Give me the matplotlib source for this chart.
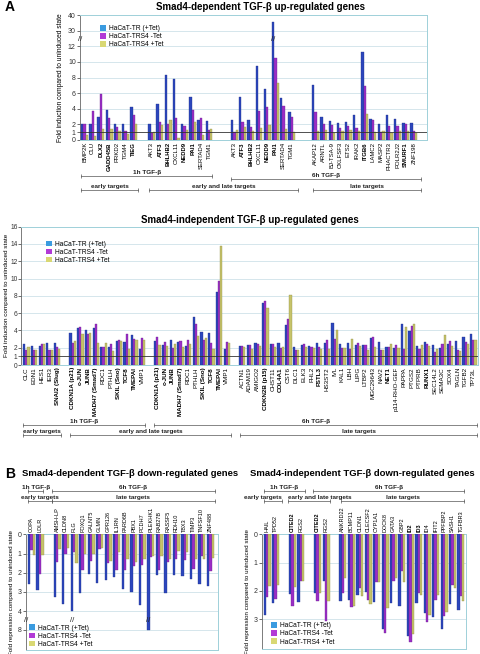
import numpy as np
import matplotlib.pyplot as plt
import matplotlib.transforms as mtransforms
from matplotlib.patches import Patch

plt.rcParams['font.family'] = ['Liberation Sans', 'DejaVu Sans']

series = ['HaCaT-TR (+Tet)', 'HaCaT-TRS4 -Tet', 'HaCaT-TRS4 +Tet']

# A top: Smad4-dependent up-regulated
dep_up_genes = ['BMP2K', 'CLU', 'DLX2', 'GADD45B', 'PRKD2', 'TGM4', 'TIEG',
                'AKT3', 'ATF3', 'BHLHB2', 'CXCL11', 'NEDD9', 'PAI1', 'SERTAD4', 'TGM1',
                'AKT3', 'ATF3', 'BHLHB2', 'CXCL11', 'NEDD9', 'PAI1', 'SERTAD4', 'TGM1',
                'AKAP12', 'ARNTL', 'BJ-TSA-9', 'CKLFSF3', 'ETS2', 'IRAK2', 'ITGB6', 'LAMC2',
                'MASP2', 'PHACTR3', 'POLR2J2', 'SMURF1', 'ZNF198']
dep_up_groups = [7, 8, 8, 13]
dep_up_bold = ['DLX2', 'GADD45B', 'TIEG', 'ATF3', 'BHLHB2', 'NEDD9', 'PAI1', 'ITGB6', 'SMURF1']
dep_up_tr = [2.0, 2.0, 3.0, 3.9, 2.0, 2.1, 4.2,
             2.05, 4.6, 8.3, 7.85, 2.05, 5.5, 2.5, 2.45,
             2.6, 5.45, 2.6, 9.5, 6.55, 35.5, 5.4, 3.6,
             7.1, 3.0, 2.45, 2.15, 2.3, 3.2, 11.3, 2.75, 2.0, 3.2, 2.75, 2.2, 2.2]
dep_up_minus = [2.0, 3.7, 5.85, 2.8, 1.7, 1.15, 3.2,
                0.95, 2.3, 2.05, 2.8, 1.8, 3.9, 2.85, 1.3,
                1.05, 2.3, 1.7, 3.75, 4.25, 10.5, 4.4, 3.0,
                3.6, 2.05, 1.95, 1.5, 1.85, 1.6, 6.95, 2.6, 1.05, 1.85, 1.85, 2.05, 1.15]
dep_up_plus = [0.65, 0.45, 1.45, 1.45, 1.1, 0.8, 2.05,
               1.0, 1.95, 2.5, 0.3, 1.3, 2.3, 0.65, 1.45,
               1.3, 1.7, 1.15, 1.6, 1.95, 7.3, 1.4, 1.0,
               1.1, 1.3, 0.85, 1.1, 1.3, 1.15, 3.35, 1.0, 1.15, 0.85, 1.15, 1.15, 0.95]

# A bottom: Smad4-independent up-regulated
mid = ['CDKN1A (p21)', 'c-JUN', 'JUNB', 'MADH7 (Smad7)', 'RDC1', 'PTHLH', 'SKIL (Sno)',
       'TCF8', 'TMEPAI', 'VMP1']
ind_up_genes = (['CLC', 'EDN1', 'HES1', 'IER3', 'SNAI2 (Slug)'] + mid + mid +
                ['ACTN1', 'ADAM19', 'AMIGO2', 'CDKN2B (p15)', 'CHST11', 'COL4A1', 'CST6', 'DLC1',
                 'ELK3', 'FHL2', 'FSTL3', 'HS3ST2', 'IVL', 'KAL1', 'LBH', 'LIPG', 'LTBP2',
                 'MGC29643', 'NAV2', 'NET1', 'p114-RHO-GEF', 'PAPPA', 'PTGS2', 'PTPRB', 'RUNX1',
                 'SEC14L2', 'SEMA3C', 'SOX4', 'TAGLN', 'TGFB2', 'TP73L'])
ind_up_groups = [5, 10, 10, 31]
ind_up_bold = ['SNAI2 (Slug)', 'CDKN1A (p21)', 'c-JUN', 'JUNB', 'MADH7 (Smad7)', 'SKIL (Sno)',
               'TCF8', 'TMEPAI', 'CDKN2B (p15)', 'COL4A1', 'FSTL3', 'NET1', 'RUNX1']
ind_up_tr = [2.45, 2.25, 2.2, 2.6, 2.55,
             3.7, 4.3, 4.0, 4.3, 2.1, 2.05, 2.75, 2.65, 3.45, 1.9,
             2.8, 2.3, 2.9, 2.65, 2.2, 5.6, 3.85, 3.75, 8.5, 1.85,
             2.25, 2.3, 2.5, 7.2, 2.4, 2.6, 4.6, 2.1, 2.3, 2.15, 2.5, 2.5, 4.9, 2.4, 2.55, 2.3,
             2.3, 3.1, 2.65, 2.05, 2.0, 4.75, 3.9, 2.25, 2.65, 2.3, 2.0, 2.4, 2.8, 3.25, 3.6]
ind_up_minus = [1.75, 1.75, 2.45, 1.75, 2.1,
                2.5, 4.45, 3.55, 4.7, 2.1, 2.45, 2.9, 3.55, 3.0, 3.15,
                3.2, 2.7, 2.0, 2.75, 2.9, 4.8, 2.95, 2.6, 9.7, 2.65,
                2.25, 2.3, 2.4, 7.45, 2.4, 2.0, 5.35, 1.75, 2.4, 2.1, 2.05, 2.85, 3.0, 2.0, 1.85,
                2.5, 2.3, 3.25, 1.75, 2.1, 2.3, 1.85, 4.5, 1.85, 2.45, 1.55, 2.4, 2.8, 1.75, 2.65, 2.9]
ind_up_plus = [2.1, 1.75, 2.45, 1.75, 1.85,
               2.75, 3.55, 3.65, 2.5, 2.5, 1.6, 2.75, 1.85, 2.9, 2.85,
               2.3, 2.15, 2.4, 2.05, 2.4, 3.35, 3.15, 1.8, 13.8, 2.55,
               2.1, 1.85, 2.2, 6.55, 2.05, 2.1, 8.1, 1.7, 2.05, 2.0, 1.85, 1.85, 4.05, 2.0, 3.0,
               2.25, 1.75, 2.05, 1.7, 2.4, 2.0, 4.35, 4.75, 2.3, 2.25, 1.9, 3.45, 2.25, 1.65, 2.4, 2.9]

# B left: Smad4-dependent down-regulated
dep_dn_genes = ['COPA', 'LDLR', 'AMSH-LP', 'CLDN8', 'FLG', 'FOXQ1', 'GALNT5', 'GLMN', 'GPR126',
                'IL1RN', 'PARD6B', 'PBX1', 'PCDH7', 'PLEKHK1', 'RAB27B', 'RASSF5', 'RDH10',
                'TBX3', 'TIMP3', 'TNFSF10', 'ZNF488']
dep_dn_groups = [2, 19]
dep_dn_tr = [2.6, 2.9, 3.25, 3.63, 4.02, 3.03, 2.09, 2.52, 2.38, 2.24, 2.87, 3.0, 3.69, 8.0,
             2.14, 3.04, 2.14, 2.16, 2.35, 2.56, 2.68]
dep_dn_minus = [0.82, 2.09, 1.43, 1.0, 0.9, 1.86, 1.39, 0.77, 1.51, 1.86, 1.86, 1.65, 1.6, 1.17,
                1.86, 1.43, 1.3, 1.34, 1.79, 1.13, 1.91]
dep_dn_plus = [1.08, 1.08, 0.78, 0.7, 1.51, 1.04, 1.0, 0.7, 1.37, 0.9, 1.3, 1.46, 1.27, 1.13,
               1.11, 1.3, 0.85, 0.9, 1.3, 1.3, 1.22]

# B right: Smad4-independent down-regulated
ind_dn_genes = ['HAIL', 'TPD52', 'CITED2', 'RGS2', 'CITED2', 'RGS2', 'ANKRD22', 'BCMP11', 'CLDN1',
                'CLECSF2', 'CYP1A1', 'DOCK8', 'GATA3', 'GBP2', 'ID2', 'ID3', 'ID4', 'IFIT2',
                'PPFIBP2', 'SASH1', 'TGFBR3']
ind_dn_groups = [2, 2, 2, 15]
ind_dn_bold = ['CITED2', 'ID2', 'ID3']
ind_dn_tr = [2.84, 2.43, 2.11, 2.4, 2.08, 1.64, 2.37, 2.31, 2.16, 2.05, 2.4, 3.33, 2.44, 2.54,
             3.6, 2.44, 2.78, 2.93, 3.33, 2.45, 2.68]
ind_dn_minus = [2.23, 2.27, 2.54, 1.64, 2.34, 3.05, 2.08, 2.58, 1.9, 2.32, 1.69, 3.48, 1.64, 1.3,
                3.8, 2.08, 3.1, 2.31, 2.9, 1.8, 2.17]
ind_dn_plus = [1.84, 1.8, 1.86, 1.64, 2.08, 2.37, 1.55, 2.54, 2.19, 2.46, 1.69, 2.6, 1.55, 1.7,
               3.52, 2.16, 2.84, 2.16, 2.75, 1.9, 2.37]

colors = ['#2c46bd', '#9a2ec6', '#c6c36a']
edges = ['#1d2f86', '#6d1f8f', '#8f8d45']
leg_colors = ['#3a9be0', '#b23ad6', '#d9d873']
GRID = '#cfe2e9'
FRAME = '#9fd0d9'

fig = plt.figure(figsize=(4.8, 6.54), dpi=100)


def px_axes(x0, y0, x1, y1):
    return fig.add_axes([x0 / 480, 1 - y1 / 654, (x1 - x0) / 480, (y1 - y0) / 654])


def group_pos(sizes, gaps):
    out, start = [], 0.0
    for n, g in zip(sizes, gaps + [0]):
        out.append(start + np.arange(n))
        start += n + g
    return out


def draw_bars(ax, pos, vals, w=0.28):
    for k, v in enumerate(vals):
        ax.bar(pos + (k - 1) * w, v, width=w, color=colors[k], edgecolor=edges[k],
               linewidth=0.25, zorder=3)


def style(ax, genes, bold, fs, top=False):
    for s in ['top', 'right', 'bottom']:
        ax.spines[s].set_color(FRAME)
        ax.spines[s].set_linewidth(0.7)
    ax.spines['left'].set_color('#666')
    ax.spines['left'].set_linewidth(0.6)
    ax.tick_params(axis='y', labelsize=5, length=2, width=0.5, pad=1, colors='#333')
    ax.tick_params(axis='x', length=0, labelsize=fs, pad=1.5)
    if top:
        ax.xaxis.tick_top()
        ax.set_xticklabels(genes, rotation=90, va='bottom')
    else:
        ax.set_xticklabels(genes, rotation=90, va='top')
    for lbl in ax.get_xticklabels():
        if lbl.get_text() in bold:
            lbl.set_fontweight('bold')


def bracket(ax, x0, x1, y, label, ha='center'):
    tr = mtransforms.blended_transform_factory(ax.transData, ax.transAxes)
    ax.plot([x0, x1], [y, y], color='#555', lw=0.5, transform=tr, clip_on=False)
    ax.plot([x0, x1], [y, y], ls='none', marker='|', ms=2.5, mew=0.5, color='#555',
            transform=tr, clip_on=False)
    xt = {'center': (x0 + x1) / 2, 'left': x0, 'right': x1}[ha]
    ax.text(xt, y, label, ha=ha, va='bottom', fontsize=4.6, weight='bold',
            color='#222', transform=mtransforms.offset_copy(tr, fig, y=0.8, units='points'))


def legend(ax, loc, anchor):
    handles = [Patch(facecolor=c, edgecolor='none') for c in leg_colors]
    ax.legend(handles, series, loc=loc, bbox_to_anchor=anchor, frameon=False, fontsize=4.8,
              handlelength=0.9, handleheight=0.9, handletextpad=0.4, labelspacing=0.15,
              borderpad=0, borderaxespad=0)


def brk(ax, x, y, xaxes=False):
    tr = ax.transData
    if xaxes:
        tr = mtransforms.blended_transform_factory(ax.transAxes, ax.transData)
    ax.text(x, y, '//', transform=tr, ha='center', va='center', fontsize=5.5, color='#222',
            clip_on=False, zorder=6)


def fwd_a(v):
    v = np.asarray(v, float)
    return np.where(v <= 12, v, np.where(v <= 30, 12 + (v - 12) / 9, 14 + (v - 30) / 5))


def inv_a(d):
    d = np.asarray(d, float)
    return np.where(d <= 12, d, np.where(d <= 14, 12 + (d - 12) * 9, 30 + (d - 14) * 5))


def fwd_b(v):
    v = np.asarray(v, float)
    return np.where(v <= 4, v, 4 + (v - 4) * 0.24)


def inv_b(d):
    d = np.asarray(d, float)
    return np.where(d <= 4, d, 4 + (d - 4) / 0.24)


# ---------------- A top ----------------
ax = px_axes(80, 15, 427, 140)
g = group_pos(dep_up_groups, [1.2, 2.1, 1.9])
pos = np.concatenate(g)
ax.set_yscale('function', functions=(fwd_a, inv_a))
for yv in [2, 4, 6, 8, 10, 12, 30]:
    ax.axhline(yv, color=GRID, lw=0.6, zorder=1)
ax.axhline(1, color='#333', lw=0.6, zorder=4)
draw_bars(ax, pos, [dep_up_tr, dep_up_minus, dep_up_plus])
ax.set_ylim(0, 40)
ax.set_xlim(-0.55, 41.8)
ax.set_yticks([0, 1, 2, 4, 6, 8, 10, 12, 30, 40])
ax.yaxis.set_minor_locator(plt.NullLocator())
ax.set_xticks(pos)
style(ax, dep_up_genes, dep_up_bold, 4.3)
ax.set_ylabel('Fold induction compared to uninduced state', fontsize=4.8, labelpad=3)
legend(ax, 'upper left', (0.058, 0.92))
brk(ax, 0, 20, xaxes=True)
for i in np.where(np.array(dep_up_tr) > 12)[0]:
    brk(ax, pos[i] - 0.28, 20)
bracket(ax, g[0][0] - 0.4, g[1][-1] + 0.4, -0.288, '1h TGF-β')
bracket(ax, g[2][0] - 0.4, g[3][-1] + 0.9, -0.312, '6h TGF-β')
bracket(ax, g[0][0] - 0.4, g[0][-1] + 0.5, -0.40, 'early targets')
bracket(ax, g[1][0] - 0.3, g[2][-1] + 0.8, -0.40, 'early and late targets')
bracket(ax, g[3][0] - 0.3, g[3][-1] + 0.9, -0.40, 'late targets')

# ---------------- A bottom ----------------
ax = px_axes(21, 226.7, 478, 365)
g = group_pos(ind_up_groups, [1, 1, 1])
pos = np.concatenate(g)
for yv in range(2, 16, 2):
    ax.axhline(yv, color=GRID, lw=0.6, zorder=1)
ax.axhline(1, color='#333', lw=0.6, zorder=4)
draw_bars(ax, pos, [ind_up_tr, ind_up_minus, ind_up_plus])
ax.set_ylim(0, 16)
ax.set_xlim(-0.7, 58.6)
ax.set_yticks([0, 1, 2, 4, 6, 8, 10, 12, 14, 16])
ax.set_xticks(pos)
style(ax, ind_up_genes, ind_up_bold, 4.5)
ax.tick_params(axis='y', labelsize=4.8, pad=0.5)
ax.set_ylabel('Fold induction compared to uninduced state', fontsize=4.6, labelpad=1)
legend(ax, 'upper left', (0.055, 0.9))
bracket(ax, g[0][0] - 0.4, g[1][-1] + 0.4, -0.434, '1h TGF-β')
bracket(ax, g[2][0] - 0.4, g[3][-1] + 0.5, -0.434, '6h TGF-β')
bracket(ax, g[0][0] - 0.4, g[0][-1] + 0.5, -0.506, 'early targets')
bracket(ax, g[1][0] - 0.3, g[2][-1] + 0.5, -0.506, 'early and late targets')
bracket(ax, g[3][0] - 0.3, g[3][-1] + 0.5, -0.506, 'late targets')

# ---------------- B left ----------------
ax = px_axes(26, 534.3, 218, 650)
g = group_pos(dep_dn_groups, [1])
pos = np.concatenate(g)
ax.set_yscale('function', functions=(fwd_b, inv_b))
for yv in [1, 2, 3, 4, 8]:
    ax.axhline(yv, color=GRID, lw=0.6, zorder=1)
draw_bars(ax, pos, [dep_dn_tr, dep_dn_minus, dep_dn_plus])
ax.set_ylim(12.4, 0)
ax.set_xlim(-0.65, 21.9)
ax.set_yticks([0, 1, 2, 3, 4, 8])
ax.yaxis.set_minor_locator(plt.NullLocator())
ax.set_xticks(pos)
style(ax, dep_dn_genes, [], 4.0, top=True)
ax.set_ylabel('Fold repression compared to uninduced state', fontsize=4.5, labelpad=3)
legend(ax, 'lower left', (0.016, 0.02))
brk(ax, 0, 6, xaxes=True)
for i in np.where(np.array(dep_dn_tr) > 4)[0]:
    brk(ax, pos[i] - 0.28, 6)
bracket(ax, g[0][0] - 0.4, g[0][-1] + 0.4, 1.377, '1h TGF-β')
bracket(ax, g[1][0] - 0.6, g[1][-1] + 0.5, 1.377, '6h TGF-β')
bracket(ax, g[0][0] - 0.4, g[0][-1] + 1.4, 1.288, 'early targets')
bracket(ax, g[1][0] - 0.6, g[1][-1] + 0.5, 1.288, 'late targets')

# ---------------- B right ----------------
ax = px_axes(262, 534.3, 466, 649)
g = group_pos(ind_dn_groups, [1, 1, 1])
pos = np.concatenate(g)
for yv in [1, 2, 3]:
    ax.axhline(yv, color=GRID, lw=0.6, zorder=1)
draw_bars(ax, pos, [ind_dn_tr, ind_dn_minus, ind_dn_plus])
ax.set_ylim(4.05, 0)
ax.set_xlim(-0.6, 23.6)
ax.set_yticks([0, 1, 2, 3])
ax.set_xticks(pos)
style(ax, ind_dn_genes, ind_dn_bold, 4.0, top=True)
ax.set_ylabel('Fold repression compared to uninduced state', fontsize=4.5, labelpad=3)
legend(ax, 'lower left', (0.044, 0.03))
bracket(ax, g[0][0] - 0.4, g[1][-1] + 0.5, 1.38, '1h TGF-β')
bracket(ax, g[2][0] - 0.5, g[3][-1] + 0.4, 1.38, '6h TGF-β')
bracket(ax, g[0][0] - 0.4, g[0][-1] + 0.8, 1.29, 'early targets', ha='right')
bracket(ax, g[1][0] - 0.5, g[2][-1] + 0.5, 1.29, 'early and late targets', ha='left')
bracket(ax, g[3][0] - 0.2, g[3][-1] + 0.4, 1.29, 'late targets')

# titles and panel letters
fig.text(261 / 480, 1 - 7 / 654, 'Smad4-dependent TGF-β up-regulated genes', ha='center',
         va='center', fontsize=7, weight='bold')
fig.text(250 / 480, 1 - 220 / 654, 'Smad4-independent TGF-β up-regulated genes', ha='center',
         va='center', fontsize=7, weight='bold')
fig.text(130 / 480, 1 - 474 / 654, 'Smad4-dependent TGF-β down-regulated genes', ha='center',
         va='center', fontsize=6.8, weight='bold')
fig.text(362 / 480, 1 - 474 / 654, 'Smad4-independent TGF-β down-regulated genes', ha='center',
         va='center', fontsize=6.8, weight='bold')
fig.text(5 / 480, 1 - 7 / 654, 'A', ha='left', va='center', fontsize=10, weight='bold')
fig.text(5 / 480, 1 - 474 / 654, 'B', ha='left', va='center', fontsize=10, weight='bold')

fig.savefig('out.png', dpi=100)
